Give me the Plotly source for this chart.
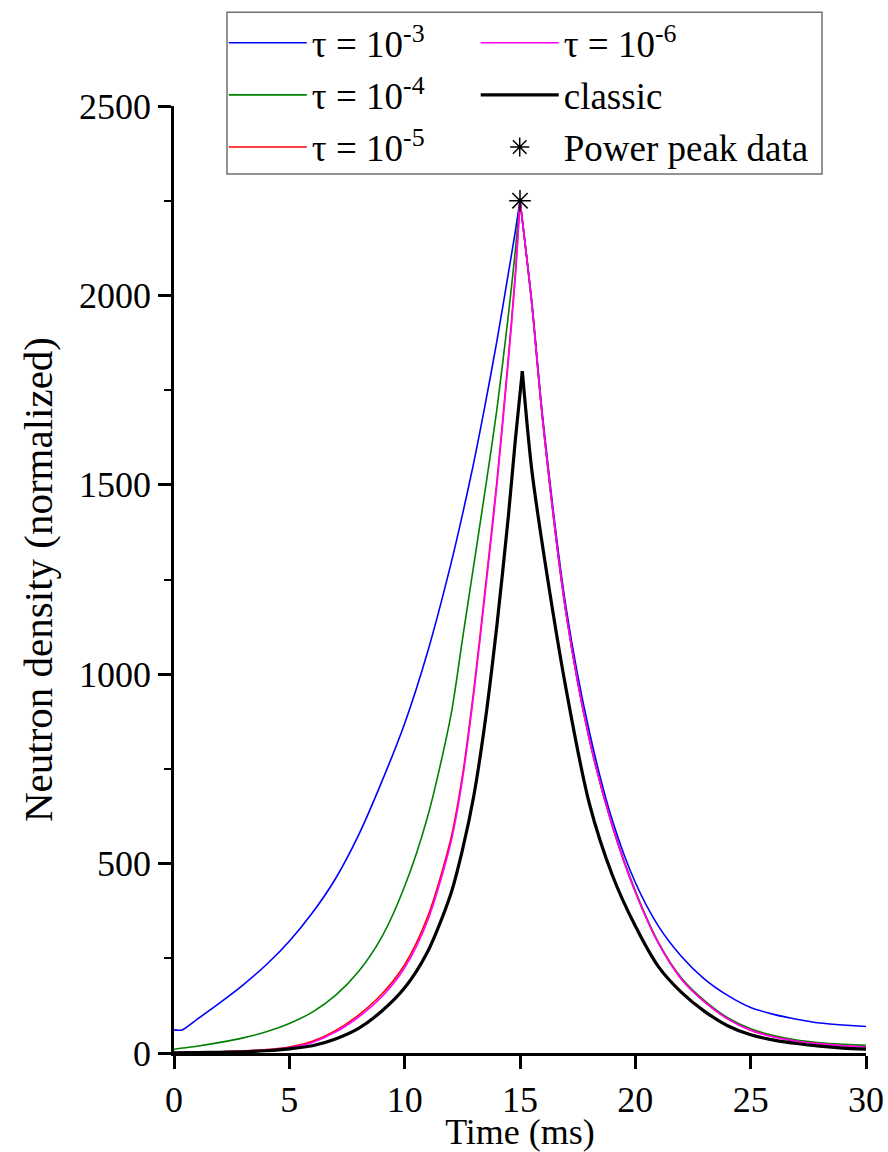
import plotly.graph_objects as go

# ---- data ----
t_tau = [0, 0.35, 1, 2, 3, 4, 5, 6, 7, 8, 9, 10, 11, 12, 12.5, 13, 13.5, 14, 14.5, 14.8, 15,
         15.5, 16, 17, 18, 19, 20, 21, 22, 23, 24, 25, 26, 27, 28, 29, 30]

tau3 = [61, 61, 89, 133, 180, 233, 295, 370, 460, 575, 715, 870, 1060, 1290, 1420, 1560, 1715, 1880, 2060, 2170, 2250,
        1990, 1670, 1175, 850, 615, 450, 335, 255, 195, 152, 120, 102, 89, 79, 74, 70]
tau4 = [10, 13, 18, 28, 40, 56, 78, 108, 152, 215, 305, 440, 625, 890, 1090, 1290, 1490, 1700, 1950, 2120, 2250,
        1985, 1660, 1160, 830, 600, 428, 292, 198, 138, 93, 64, 46, 34, 27, 23, 20]
tau5 = [1, 1, 2, 3, 6, 9, 16, 31, 59, 100, 155, 233, 360, 565, 730, 960, 1230, 1510, 1840, 2060, 2250,
        1985, 1660, 1160, 830, 600, 425, 290, 195, 135, 90, 60, 43, 31, 24, 19, 16]
tau6 = [1, 1, 2, 3, 5, 8, 14, 28, 55, 95, 148, 225, 350, 555, 720, 950, 1220, 1500, 1830, 2050, 2250,
        1985, 1660, 1160, 830, 600, 425, 290, 195, 135, 90, 60, 42, 31, 24, 19, 16]

t_classic = [0, 1, 2, 3, 4, 5, 6, 7, 8, 9, 10, 11, 12, 12.5, 13, 13.5, 14, 14.5, 14.8, 15.1,
             15.5, 16, 17, 18, 19, 20, 21, 22, 23, 24, 25, 26, 27, 28, 29, 30]
classic = [0.5, 1, 2, 3, 6, 11, 19, 37, 65, 110, 172, 268, 420, 535, 680, 880, 1130, 1420, 1620, 1800,
           1545, 1330, 960, 660, 470, 335, 228, 160, 110, 72, 48, 34, 25, 18, 13, 10]

peak_t = [15]
peak_val = [2250]

series_names = ["τ = 10<sup>-3</sup>", "τ = 10<sup>-4</sup>", "τ = 10<sup>-5</sup>",
                "τ = 10<sup>-6</sup>", "classic"]
series_colors = ["#0000FF", "#008000", "#FF0000", "#FF00FF", "#000000"]

x_ticks = [0, 5, 10, 15, 20, 25, 30]
y_ticks = [0, 500, 1000, 1500, 2000, 2500]

FONT = "Liberation Serif, Times New Roman, serif"

fig = go.Figure()

series = [(t_tau, tau3), (t_tau, tau4), (t_tau, tau5), (t_tau, tau6), (t_classic, classic)]
legends = ["legend", "legend", "legend", "legend2", "legend2"]
widths = [1.6, 1.6, 1.6, 1.6, 3.2]

for k, ((tx, vy), name, col, lg, w) in enumerate(zip(series, series_names, series_colors, legends, widths)):
    ip = vy.index(max(vy))
    # rising branch and falling branch meet at the sharp peak
    fig.add_trace(go.Scatter(x=tx[:ip + 1], y=vy[:ip + 1], mode="lines", name=name,
                             line=dict(color=col, width=w, shape="spline", smoothing=0.8),
                             legend=lg, legendgroup=f"g{k}", showlegend=True))
    fig.add_trace(go.Scatter(x=tx[ip:], y=vy[ip:], mode="lines", name=name,
                             line=dict(color=col, width=w, shape="spline", smoothing=0.8),
                             legend=lg, legendgroup=f"g{k}", showlegend=False))

fig.add_trace(go.Scatter(x=peak_t, y=peak_val, mode="markers", name="Power peak data",
                         marker=dict(symbol="asterisk-open", size=18, color="#000000",
                                     line=dict(color="#000000", width=1.5)),
                         legend="legend2", legendgroup="g5"))

leg_common = dict(
    yanchor="top", xanchor="left", y=1.099,
    bgcolor="rgba(0,0,0,0)", borderwidth=0,
    font=dict(family=FONT, size=37, color="black"),
    tracegroupgap=1, itemwidth=78, traceorder="grouped",
)

fig.update_layout(
    width=888, height=1152,
    margin=dict(l=174, r=22, t=104, b=99),
    paper_bgcolor="white", plot_bgcolor="white",
    font=dict(family=FONT, size=36, color="black"),
    showlegend=True,
    legend=dict(x=0.072, **leg_common),
    legend2=dict(x=0.436, **leg_common),
    shapes=[dict(type="rect", xref="paper", yref="paper",
                 x0=0.0766, x1=0.9364, y0=0.9283, y1=1.0991,
                 line=dict(color="#707070", width=1.5), fillcolor="rgba(0,0,0,0)", layer="below")],
    xaxis=dict(
        range=[0, 30], tickvals=x_ticks, showgrid=False, zeroline=False,
        showline=True, linecolor="black", linewidth=2.5,
        ticks="outside", ticklen=13, tickwidth=2.5, tickcolor="black",
        tickfont=dict(family=FONT, size=36),
        title=dict(text="Time (ms)", font=dict(family=FONT, size=36), standoff=5),
        automargin=False,
    ),
    yaxis=dict(
        range=[0, 2500], tickvals=y_ticks, showgrid=False, zeroline=False,
        showline=True, linecolor="black", linewidth=2.5,
        ticks="outside", ticklen=13, tickwidth=2.5, tickcolor="black",
        tickfont=dict(family=FONT, size=36),
        minor=dict(dtick=250, ticks="outside", ticklen=7, tickwidth=2, tickcolor="black", showgrid=False),
        title=dict(text="Neutron density (normalized)", font=dict(family=FONT, size=41), standoff=14),
        automargin=False,
    ),
)

fig.write_html("out.html")
